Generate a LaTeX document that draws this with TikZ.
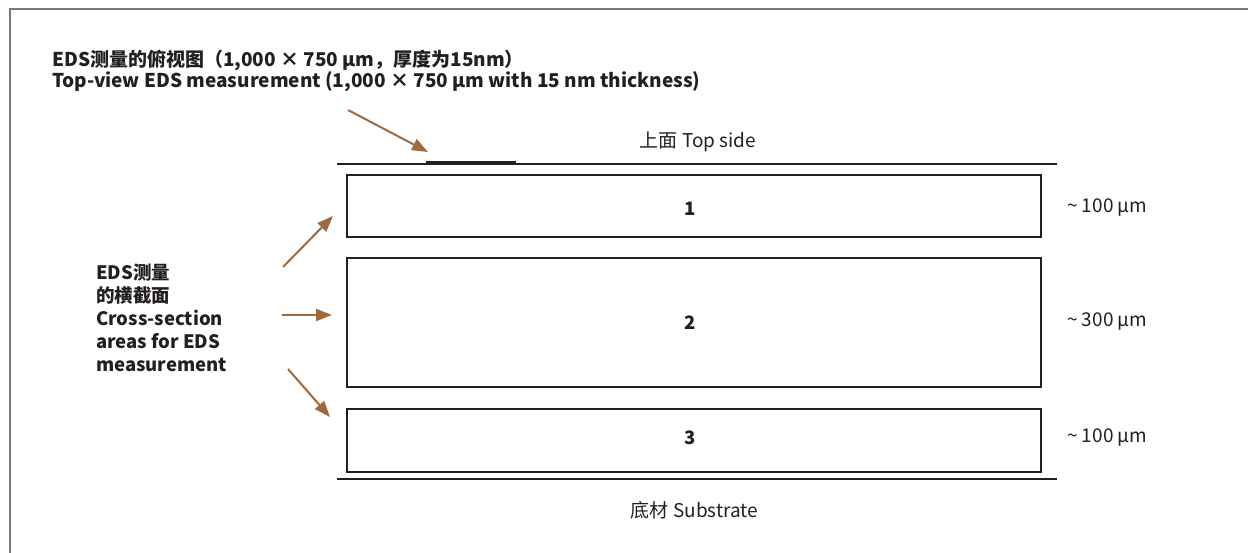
\documentclass[tikz,border=0pt]{standalone}
\usepackage{fontspec}
\setmainfont{Noto Sans CJK SC}
\usetikzlibrary{arrows.meta}
\definecolor{arr}{HTML}{A0693F}
\definecolor{ink}{HTML}{231F20}
\definecolor{frame}{HTML}{7A7A7A}
\tikzset{
  layer/.style={draw=ink, line width=2pt, minimum width=694pt, inner sep=0pt},
  num/.style={inner sep=0pt, font=\fontsize{18.5}{20}\selectfont\bfseries, text=ink},
  dim/.style={anchor=west, inner sep=0pt, font=\fontsize{19}{20}\selectfont, text=ink},
  side/.style={inner sep=0pt, font=\fontsize{19}{20}\selectfont, text=ink},
  ttl/.style={anchor=base west, inner sep=0pt, font=\fontsize{19}{20}\selectfont\bfseries, text=ink},
  bold/.style={anchor=west, inner sep=0pt, align=left, font=\fontsize{18.5}{23}\selectfont\bfseries, text=ink},
  pointer/.style={draw=arr, line width=2pt, -{Triangle[length=16pt,width=12pt]}},
  rule/.style={draw=ink, line width=2pt}
}
\begin{document}
\begin{tikzpicture}[x=1pt,y=-1pt]
\useasboundingbox (0,0) rectangle (1248,553);
\draw[frame, line width=2pt] (9.5,553) -- (9.5,9.5) -- (1248,9.5);
% title
\node[ttl] (title1) at (52,67) {EDS测量的俯视图（1,000 × 750 µm，厚度为15nm）};
\node[ttl] (title2) at (52,88) {Top-view EDS measurement (1,000 × 750 µm with 15 nm thickness)};
% layers
\node[layer, minimum height=62pt] (l1) at (694,206) {};
\node[layer, minimum height=128pt] (l2) at (694,322.5) {};
\node[layer, minimum height=63pt] (l3) at (694,440.5) {};
\node[num] (n1) at (690,209) {1};
\node[num] (n2) at (690,323) {2};
\node[num] (n3) at (690,438) {3};
% top & bottom rules
\coordinate (tl) at (337,164.5);
\coordinate (tr) at (1057,164.5);
\coordinate (bl) at (337,479);
\coordinate (br) at (1057,479);
\draw[rule] (tl) -- (tr);
\draw[rule] (bl) -- (br);
\coordinate (ta) at (426,163.5);
\coordinate (tb) at (516,163.5);
\draw[draw=ink, line width=4pt] (ta) -- (tb);
% side labels
\node[side] (top) at (698,142) {上面 Top side};
\node[side] (sub) at (694.5,510) {底材 Substrate};
\node[dim] (d1) at (1067,208) {\textasciitilde\ 100 µm};
\node[dim] (d2) at (1067,322) {\textasciitilde\ 300 µm};
\node[dim] (d3) at (1067,438) {\textasciitilde\ 100 µm};
% cross section label
\node[bold] (cs) at (96,318) {EDS测量\\的横截面\\Cross-section\\areas for EDS\\measurement};
% arrows
\coordinate (a0) at (348,110);
\coordinate (e0) at (428,152);
\draw[pointer] (a0) -- (e0);
\coordinate (a1) at (283,267);
\coordinate (e1) at (333,216);
\draw[pointer] (a1) -- (e1);
\coordinate (a2) at (282,315);
\coordinate (e2) at (332,315);
\draw[pointer] (a2) -- (e2);
\coordinate (a3) at (288,369);
\coordinate (e3) at (330,417);
\draw[pointer] (a3) -- (e3);
\end{tikzpicture}
\end{document}
